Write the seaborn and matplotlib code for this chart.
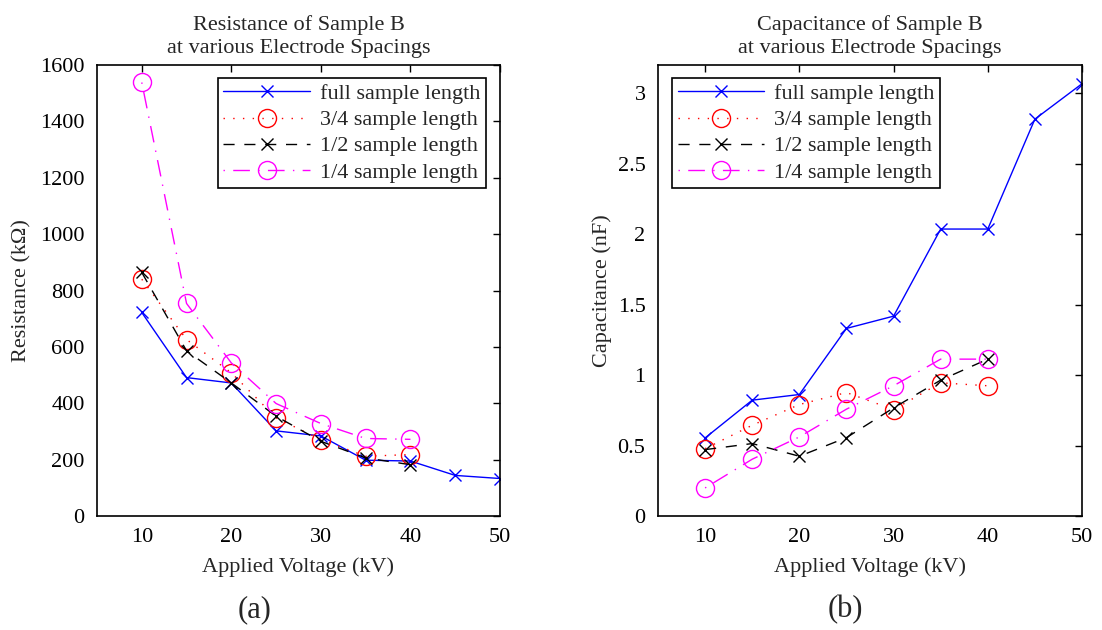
import matplotlib
matplotlib.use("Agg")
import matplotlib.pyplot as plt
import seaborn as sns
import pandas as pd

# ---------------------------
# data
# ---------------------------
voltage_full = [10, 15, 20, 25, 30, 35, 40, 45, 50]
voltage_part = [10, 15, 20, 25, 30, 35, 40]

res_full = [722, 491, 472, 302, 284, 198, 195, 144, 133]
res_34 = [840, 626, 508, 348, 271, 212, 218]
res_12 = [864, 586, 472, 354, 265, 206, 182]
res_14 = [1538, 754, 543, 399, 328, 275, 272]

cap_full = [0.554, 0.822, 0.862, 1.331, 1.418, 2.036, 2.036, 2.816, 3.067]
cap_34 = [0.478, 0.644, 0.791, 0.876, 0.755, 0.945, 0.924]
cap_12 = [0.471, 0.514, 0.424, 0.556, 0.767, 0.964, 1.113]
cap_14 = [0.199, 0.403, 0.561, 0.758, 0.924, 1.113, 1.113]

labels = ["full sample length", "3/4 sample length", "1/2 sample length", "1/4 sample length"]
cap_ticks = [0, 0.5, 1, 1.5, 2, 2.5, 3]
cap_tick_labels = ["0", "0.5", "1", "1.5", "2", "2.5", "3"]

# line looks like the old matlab figure
styles = [
    dict(color="blue", linestyle="-", marker="x", markersize=9),
    dict(color="red", linestyle=(0, (1, 6)), marker="o", markersize=13, markerfacecolor="none"),
    dict(color="black", linestyle=(0, (8, 7)), marker="x", markersize=9),
    dict(color="magenta", linestyle=(0, (1, 6, 12, 6)), marker="o", markersize=13, markerfacecolor="none"),
]

FS = 16

sns.set_style("white")
plt.rcParams["font.family"] = ["Liberation Serif", "DejaVu Serif"]

fig = plt.figure(figsize=(11.02, 6.30), dpi=100)
ax1 = fig.add_axes([97 / 1102, 114 / 630, 403 / 1102, 451 / 630])
ax2 = fig.add_axes([658 / 1102, 114 / 630, 424 / 1102, 451 / 630])


def draw(ax, series):
    for (xs, ys), lab, st in zip(series, labels, styles):
        df = pd.DataFrame({"x": xs, "y": ys})
        sns.lineplot(ax=ax, data=df, x="x", y="y", label=lab, linewidth=1,
                     markeredgewidth=1, markeredgecolor=st["color"], **st)


draw(ax1, [(voltage_full, res_full), (voltage_part, res_34),
           (voltage_part, res_12), (voltage_part, res_14)])
draw(ax2, [(voltage_full, cap_full), (voltage_part, cap_34),
           (voltage_part, cap_12), (voltage_part, cap_14)])

for ax in (ax1, ax2):
    ax.set_xlim(5, 50)
    ax.set_xticks([10, 20, 30, 40, 50])
    ax.tick_params(direction="in", top=True, right=True, length=5, width=1,
                   labelsize=FS, colors="black", pad=9)
    for sp in ax.spines.values():
        sp.set_color("black")
        sp.set_linewidth(1.2)
    ax.set_xlabel("Applied Voltage (kV)", fontsize=FS, labelpad=7)

ax1.set_ylim(0, 1600)
ax1.set_yticks(range(0, 1601, 200))
ax1.set_ylabel("Resistance (k\u03a9)", fontsize=FS, labelpad=6)
ax1.set_title("Resistance of Sample B\nat various Electrode Spacings", fontsize=FS, pad=9, linespacing=1.25)

ax2.set_ylim(0, 3.2)
ax2.set_yticks(cap_ticks)
ax2.set_yticklabels(cap_tick_labels)
ax2.set_ylabel("Capacitance (nF)", fontsize=FS, labelpad=4)
ax2.set_title("Capacitance of Sample B\nat various Electrode Spacings", fontsize=FS, pad=9, linespacing=1.25)

leg_kw = dict(fontsize=FS, fancybox=False, edgecolor="black", framealpha=1, borderaxespad=0,
              handlelength=3.9, handletextpad=0.45, labelspacing=0.25, borderpad=0.25)
leg1 = ax1.legend(loc="upper right", bbox_to_anchor=(0.965, 0.971), **leg_kw)
leg2 = ax2.legend(loc="upper left", bbox_to_anchor=(0.033, 0.971), **leg_kw)
for leg in (leg1, leg2):
    leg.get_frame().set_linewidth(1.2)

fig.text(255 / 1102, 1 - 610 / 630, "(a)", fontsize=22, ha="center", va="center")
fig.text(845 / 1102, 1 - 610 / 630, "(b)", fontsize=22, ha="center", va="center")

plt.savefig("out.png", dpi=100, facecolor="white")
